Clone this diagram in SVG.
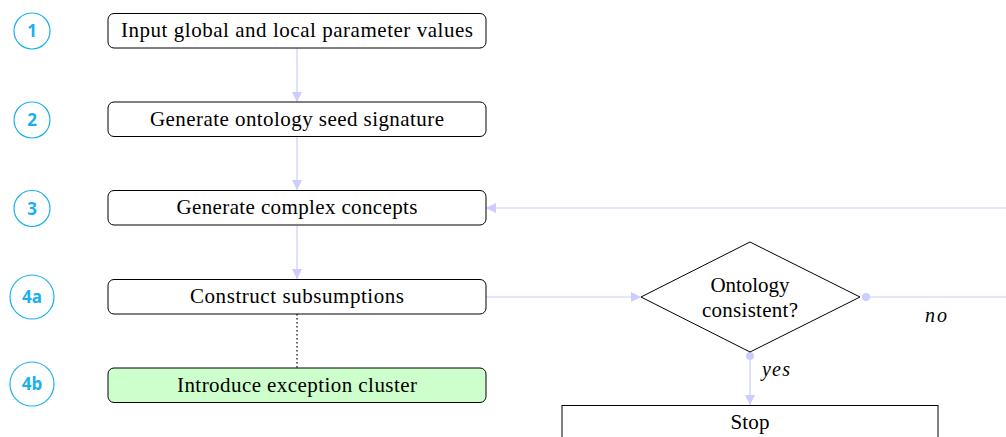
<svg xmlns="http://www.w3.org/2000/svg" width="1006" height="437" viewBox="0 0 1006 437">
<style>
.box{fill:#fff;stroke:#000;stroke-width:1}
.t{font-family:"Liberation Serif","Times New Roman",serif;font-size:21px;fill:#000;text-anchor:middle}
.it{font-family:"Liberation Serif","Times New Roman",serif;font-size:20px;font-style:italic;fill:#000}
.num{fill:#fff;stroke:#1ab0ef;stroke-width:1.2}
.nt{font-family:"Open Sans","DejaVu Sans",sans-serif;font-size:17px;font-weight:bold;fill:#1ab0ef;text-anchor:middle}
.c{stroke:#ccccff;stroke-width:1.2;fill:none}
</style>
<defs>
<marker id="ah" markerWidth="10" markerHeight="10" refX="10" refY="5" orient="auto" markerUnits="userSpaceOnUse">
<path d="M0,0 L10,5 L0,10 Z" fill="#ccccff"/>
</marker>
</defs>
<g id="connectors">
<line class="c" x1="297" y1="48" x2="297" y2="102" marker-end="url(#ah)"/>
<line class="c" x1="297" y1="137" x2="297" y2="190" marker-end="url(#ah)"/>
<line class="c" x1="297" y1="226" x2="297" y2="279" marker-end="url(#ah)"/>
<line x1="297" y1="314" x2="297" y2="368" stroke="#000" stroke-width="1.2" stroke-dasharray="1.5,2.5"/>
<line class="c" x1="486" y1="297" x2="641" y2="297" marker-end="url(#ah)"/>
<circle cx="866" cy="297" r="4" fill="#ccccff"/>
<line class="c" x1="866" y1="297" x2="1006" y2="297"/>
<line class="c" x1="1006" y1="208" x2="486" y2="208" marker-end="url(#ah)"/>
<circle cx="750" cy="356" r="4" fill="#ccccff"/>
<line class="c" x1="750" y1="356" x2="750" y2="405" marker-end="url(#ah)"/>
<text class="it" x="762" y="376" textLength="28">yes</text>
<text class="it" x="925" y="322" textLength="22">no</text>
</g>
<g id="n1"><circle class="num" cx="32" cy="31" r="18"/><text class="nt" x="32" y="37">1</text>
<rect class="box" x="108" y="13.5" width="378" height="34.5" rx="6"/><text class="t" x="297" y="36.5" textLength="352">Input global and local parameter values</text></g>
<g id="n2"><circle class="num" cx="32" cy="120" r="18"/><text class="nt" x="32" y="126">2</text>
<rect class="box" x="108" y="102" width="378" height="34.5" rx="6"/><text class="t" x="297" y="125.5" textLength="294">Generate ontology seed signature</text></g>
<g id="n3"><circle class="num" cx="32" cy="208.5" r="18"/><text class="nt" x="32" y="214.5">3</text>
<rect class="box" x="108" y="190.5" width="378" height="34.5" rx="6"/><text class="t" x="297" y="214" textLength="241">Generate complex concepts</text></g>
<g id="n4a"><circle class="num" cx="32" cy="297" r="22"/><text class="nt" x="32" y="303">4a</text>
<rect class="box" x="108" y="279.5" width="378" height="34.5" rx="6"/><text class="t" x="297" y="302.5" textLength="214">Construct subsumptions</text></g>
<g id="n4b"><circle class="num" cx="32" cy="384" r="22"/><text class="nt" x="32" y="390">4b</text>
<rect class="box" x="108" y="368" width="378" height="34.5" rx="6" style="fill:#ccffcc"/><text class="t" x="297" y="391.5" textLength="240">Introduce exception cluster</text></g>
<g id="decision"><polygon points="641,297 750,242 860,297 750,352" fill="#fff" stroke="#000" stroke-width="1"/>
<text class="t" x="750" y="292" textLength="79">Ontology</text><text class="t" x="750" y="317" textLength="96">consistent?</text></g>
<g id="stop"><rect x="562" y="405.5" width="376" height="40" fill="#fff" stroke="#000" stroke-width="1"/><text class="t" x="750" y="429" textLength="39">Stop</text></g>
</svg>
